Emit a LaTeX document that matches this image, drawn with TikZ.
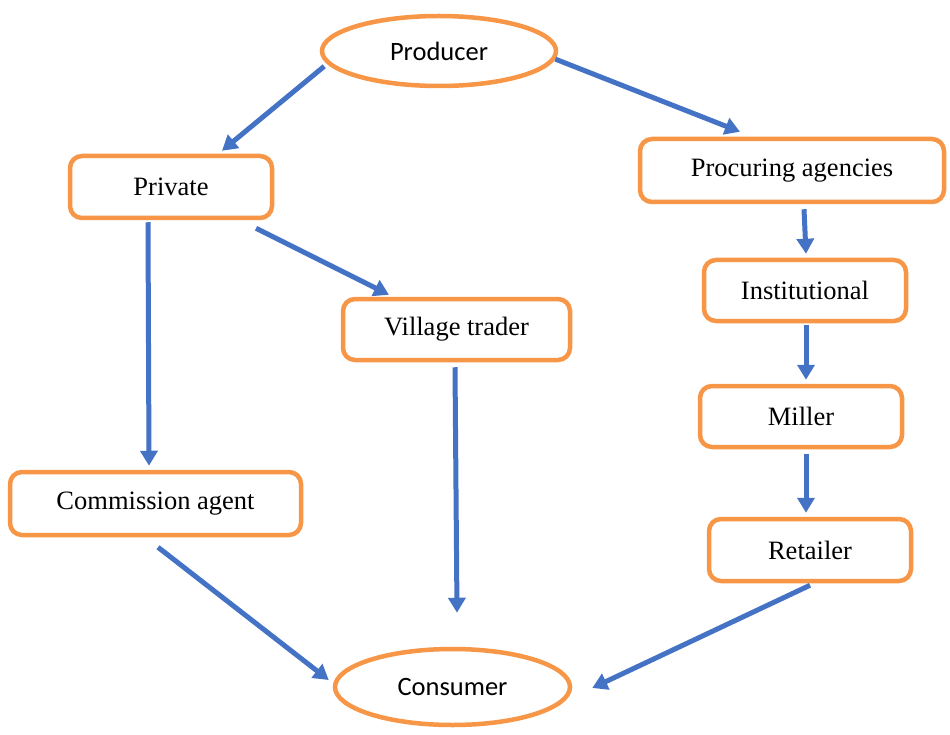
\documentclass[tikz,border=0pt]{standalone}
\usepackage{fontspec}
\setmainfont{Liberation Serif}
\newfontfamily\ellfont{Carlito}
\usetikzlibrary{shapes.geometric,arrows.meta}
\definecolor{boxorange}{HTML}{F79646}
\definecolor{flowblue}{HTML}{4472C4}
\tikzset{
  stagebox/.style={draw=boxorange, line width=4.5pt, rounded corners=12pt, fill=white,
    inner sep=0pt, font=\fontsize{26.5}{30}\selectfont},
  endell/.style={ellipse, draw=boxorange, line width=4.5pt, fill=white, inner sep=0pt,
    font=\ellfont\fontsize{26.5}{30}\selectfont},
  flow/.style={draw=flowblue, line width=5pt, -{Triangle[length=15pt,width=17pt]}}
}
\begin{document}
\begin{tikzpicture}[x=1pt,y=-1pt]
\useasboundingbox (0,0) rectangle (950,735);

% end points of the chain
\node[endell, minimum width=234pt, minimum height=70pt] (prod) at (439,51) {Producer};
\node[endell, minimum width=235pt, minimum height=76pt] (cons) at (452.5,687) {Consumer};

% intermediaries
\node[stagebox, minimum width=202pt, minimum height=62pt] (pri)  at (171,187)     {Private};
\node[stagebox, minimum width=304pt, minimum height=63pt] (proc) at (792,170.5)   {Procuring agencies};
\node[stagebox, minimum width=227pt, minimum height=61pt] (vil)  at (456.5,329.5) {Village trader};
\node[stagebox, minimum width=202pt, minimum height=61pt] (inst) at (805,290.5)   {Institutional};
\node[stagebox, minimum width=202pt, minimum height=61pt] (mil)  at (801,416.5)   {Miller};
\node[stagebox, minimum width=291pt, minimum height=63pt] (com)  at (155.5,503.5) {Commission agent};
\node[stagebox, minimum width=202pt, minimum height=62pt] (ret)  at (810,550)     {Retailer};

% flows
\draw[flow] ([xshift=-6pt]prod.188) -- ([xshift=51pt,yshift=3pt]pri.north);
\draw[flow] (prod.-4) -- ([xshift=-52pt,yshift=5pt]proc.north);
\draw[flow] ([xshift=-23pt,yshift=-2pt]pri.south) -- ([xshift=-6.5pt,yshift=4pt]com.north);
\draw[flow] ([xshift=85pt,yshift=-8pt]pri.south) -- ([xshift=-67.5pt,yshift=2pt]vil.north);
\draw[flow] ([xshift=-1.5pt,yshift=-5pt]vil.south) -- ([xshift=4.5pt,yshift=34pt]cons.north);
\draw[flow] ([xshift=2.5pt,yshift=-10pt]com.south) -- ([xshift=-4pt,yshift=7pt]cons.west);
\draw[flow] ([yshift=-2pt]ret.south) -- ([xshift=20pt,yshift=-1pt]cons.east);
\draw[flow] ([xshift=12pt,yshift=-5pt]proc.south) -- ([xshift=1pt,yshift=4pt]inst.north);
\draw[flow] ([xshift=1pt,yshift=-2pt]inst.south) -- ([xshift=5pt,yshift=4pt]mil.north);
\draw[flow] ([xshift=5pt,yshift=-5pt]mil.south) -- ([xshift=-4pt,yshift=4pt]ret.north);
\end{tikzpicture}
\end{document}
